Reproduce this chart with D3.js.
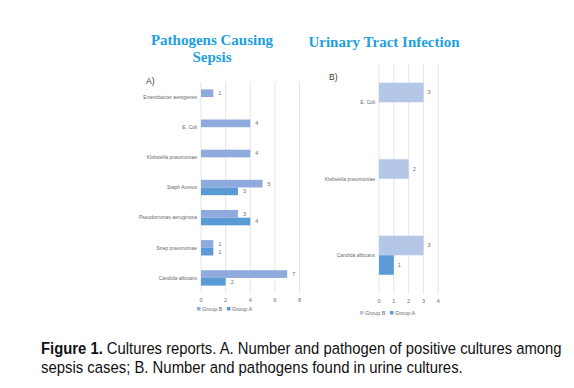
<!DOCTYPE html>
<html>
<head>
<meta charset="utf-8">
<script src="https://cdn.jsdelivr.net/npm/d3@7"></script>
<style>
  body { margin: 0; background: #fff; }
  svg { display: block; }
</style>
</head>
<body>
<div id="chart"></div>
<script>
// chart A: pathogens causing sepsis
var sepsisCategories = ["Enterobacter aerogenes", "E. Coli", "Klebsiella pneumoniae", "Staph Aureus",
  "Pseudomonas aeruginosa", "Strep pneumoniae", "Candida albicans"];
var sepsisGroupB = [1, 4, 4, 5, 3, 1, 7];
var sepsisGroupA = [null, null, null, 3, 4, 1, 2];
var sepsisTicks = [0, 2, 4, 6, 8];

// chart B: urinary tract infection
var utiCategories = ["E. Coli", "Klebsiella pneumoniae", "Candida albicans"];
var utiGroupB = [3, 2, 3];
var utiGroupA = [null, null, 1];
var utiTicks = [0, 1, 2, 3, 4];

var seriesNames = ["Group B", "Group A"];

var W = 574, H = 388;
var svg = d3.select("#chart").append("svg").attr("width", W).attr("height", H);

var titleColor = "#1ea0e0";

function drawPanel(opts) {
  var x = d3.scaleLinear().domain(opts.domain).range([opts.left, opts.right]);
  var y = d3.scaleBand().domain(opts.categories).range([opts.top, opts.bottom]).paddingInner(0).paddingOuter(0);
  var g = svg.append("g");

  // gridlines
  g.selectAll("line.grid")
    .data(opts.ticks)
    .enter()
    .append("line")
    .attr("x1", function (d) { return x(d); })
    .attr("x2", function (d) { return x(d); })
    .attr("y1", opts.top)
    .attr("y2", opts.bottom)
    .attr("stroke", "#dedede")
    .attr("stroke-width", 0.8);

  var barH = y.bandwidth() * opts.barFrac;
  var series = [
    { name: "Group B", values: opts.groupB, color: opts.colorB, offset: -barH },
    { name: "Group A", values: opts.groupA, color: opts.colorA, offset: 0 },
  ];

  series.forEach(function (s) {
    var data = opts.categories.map(function (c, i) {
      return { cat: c, v: s.values[i] };
    }).filter(function (d) { return d.v != null; });

    g.selectAll(null)
      .data(data)
      .enter()
      .append("rect")
      .attr("x", x(0))
      .attr("y", function (d) { return y(d.cat) + y.bandwidth() / 2 + s.offset; })
      .attr("width", function (d) { return x(d.v) - x(0); })
      .attr("height", barH)
      .attr("fill", s.color);

    g.selectAll(null)
      .data(data)
      .enter()
      .append("text")
      .attr("x", function (d) { return x(d.v) + opts.labelGap; })
      .attr("y", function (d) { return y(d.cat) + y.bandwidth() / 2 + s.offset + barH / 2; })
      .attr("dy", "0.35em")
      .attr("font-family", "Liberation Sans, Arial, sans-serif")
      .attr("font-size", 5.5)
      .attr("fill", "#6b6b6b")
      .text(function (d) { return d.v; });
  });

  // category labels
  g.selectAll(null)
    .data(opts.categories)
    .enter()
    .append("text")
    .attr("x", x(0) - 4)
    .attr("y", function (d) { return y(d) + y.bandwidth() / 2; })
    .attr("dy", "0.35em")
    .attr("text-anchor", "end")
    .attr("font-family", "Liberation Sans, Arial, sans-serif")
    .attr("font-size", 5)
    .attr("fill", "#6b6b6b")
    .text(function (d) { return d; });

  // x tick labels
  g.selectAll(null)
    .data(opts.ticks)
    .enter()
    .append("text")
    .attr("x", function (d) { return x(d); })
    .attr("y", opts.bottom + 9)
    .attr("text-anchor", "middle")
    .attr("font-family", "Liberation Sans, Arial, sans-serif")
    .attr("font-size", 5.5)
    .attr("fill", "#6b6b6b")
    .text(function (d) { return d; });

  // legend
  var lg = g.append("g").attr("transform", "translate(" + opts.legendX + "," + opts.legendY + ")");
  var lx = 0;
  [{ name: seriesNames[0], color: opts.colorB }, { name: seriesNames[1], color: opts.colorA }].forEach(function (s) {
    lg.append("rect").attr("x", lx).attr("y", -2).attr("width", 3.5).attr("height", 3.5).attr("fill", s.color);
    lg.append("text")
      .attr("x", lx + 5)
      .attr("y", 0)
      .attr("dy", "0.35em")
      .attr("font-family", "Liberation Sans, Arial, sans-serif")
      .attr("font-size", 5.5)
      .attr("fill", "#6b6b6b")
      .text(s.name);
    lx += 30;
  });

  // panel letter
  g.append("text")
    .attr("x", opts.letterX)
    .attr("y", opts.letterY)
    .attr("font-family", "Liberation Sans, Arial, sans-serif")
    .attr("font-size", 8.5)
    .attr("fill", "#333")
    .text(opts.letter);
}

drawPanel({
  categories: sepsisCategories, groupB: sepsisGroupB, groupA: sepsisGroupA, ticks: sepsisTicks,
  domain: [0, 8], left: 201, right: 299.5, top: 82, bottom: 293, barFrac: 0.255,
  colorB: "#8faadc", colorA: "#5b9bd5", labelGap: 5,
  legendX: 197, legendY: 309, letter: "A)", letterX: 146, letterY: 84,
});

drawPanel({
  categories: utiCategories, groupB: utiGroupB, groupA: utiGroupA, ticks: utiTicks,
  domain: [0, 4], left: 379, right: 438.3, top: 64, bottom: 293.5, barFrac: 0.255,
  colorB: "#b4c7e7", colorA: "#5b9bd5", labelGap: 4,
  legendX: 360, legendY: 313, letter: "B)", letterX: 329, letterY: 80,
});

// titles
svg.append("text")
  .attr("x", 212).attr("y", 45)
  .attr("text-anchor", "middle")
  .attr("font-family", "Liberation Serif, Times New Roman, serif")
  .attr("font-weight", "bold").attr("font-size", 15)
  .attr("fill", titleColor)
  .text("Pathogens Causing");
svg.append("text")
  .attr("x", 212).attr("y", 62)
  .attr("text-anchor", "middle")
  .attr("font-family", "Liberation Serif, Times New Roman, serif")
  .attr("font-weight", "bold").attr("font-size", 15)
  .attr("fill", titleColor)
  .text("Sepsis");
svg.append("text")
  .attr("x", 384).attr("y", 47)
  .attr("text-anchor", "middle")
  .attr("font-family", "Liberation Serif, Times New Roman, serif")
  .attr("font-weight", "bold").attr("font-size", 15)
  .attr("fill", titleColor)
  .text("Urinary Tract Infection");

// caption: no narrow face installed, so squeeze each line horizontally to the reference width
function captionLine(y, width, parts) {
  var g = svg.append("g");
  var t = g.append("text")
    .attr("x", 0).attr("y", 0)
    .attr("font-family", "Liberation Sans, Arial, sans-serif")
    .attr("font-size", 16.5)
    .attr("fill", "#111");
  parts.forEach(function (p) {
    t.append("tspan").attr("font-weight", p.bold ? "bold" : null).text(p.text);
  });
  var natural = t.node().getComputedTextLength();
  g.attr("transform", "translate(41," + y + ") scale(" + (width / natural) + ",1)");
}

captionLine(354, 521, [
  { text: "Figure 1.", bold: true },
  { text: " Cultures reports. A. Number and pathogen of positive cultures among" },
]);
captionLine(373, 422, [{ text: "sepsis cases; B. Number and pathogens found in urine cultures." }]);
</script>
</body>
</html>
